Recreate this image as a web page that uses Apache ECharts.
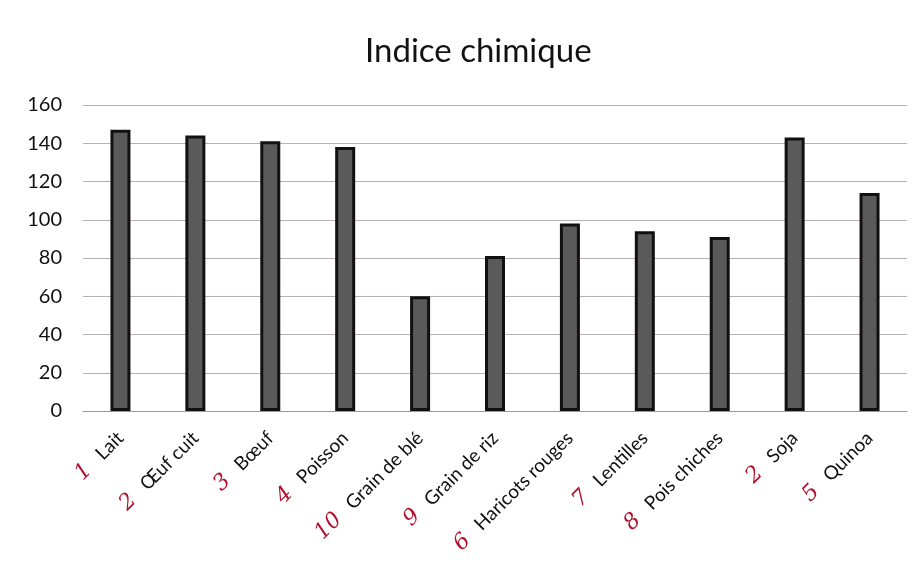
<!DOCTYPE html>
<html><head><meta charset="utf-8">
<script src="https://cdn.jsdelivr.net/npm/echarts@6/dist/echarts.min.js"></script>
<style>html,body{margin:0;padding:0;background:#fff}#c{width:922px;height:566px}</style>
</head><body><div id="c"></div>
<script>
const categories = ['Lait','Œuf cuit','Bœuf','Poisson','Grain de blé','Grain de riz','Haricots rouges','Lentilles','Pois chiches','Soja','Quinoa'];
const values = [147, 144, 141, 138, 60, 81, 98, 94, 91, 143, 114];
const rankNotes = ['1','2','3','4','10','9','6','7','8','2','5'];
const yTicks = [0,20,40,60,80,100,120,140,160];

const chart = echarts.init(document.getElementById('c'));
chart.setOption({
  backgroundColor:'#fff',
  animation:false,
  title:{text:'Indice chimique',left:360,top:30,
    textStyle:{fontFamily:'Lato',fontSize:33,fontWeight:'normal',color:'#111'}},
  grid:{left:83,right:15,top:105,bottom:155},
  xAxis:{type:'category',data:categories,
    axisLine:{lineStyle:{color:'#999',width:1}},
    axisTick:{show:false},
    axisLabel:{rotate:45,interval:0,margin:24,fontFamily:'Lato',fontSize:19,color:'#111',
      formatter:(v,i)=>'{n|'+rankNotes[i]+'}   '+v,
      rich:{n:{color:'#b3122e',fontFamily:'DejaVu Serif',fontStyle:'italic',fontSize:22}}}},
  yAxis:{type:'value',min:0,max:160,interval:20,
    axisLine:{show:false},axisTick:{show:false},
    axisLabel:{fontFamily:'Lato',fontSize:20,color:'#111',margin:21,
      formatter:v=>yTicks.includes(v)?String(v):''},
    splitLine:{lineStyle:{color:'#b9b0b0',width:1}}},
  series:[{type:'bar',data:values,barWidth:20,
    itemStyle:{color:'#5a5a5a',borderColor:'#111',borderWidth:3}}]
});
</script></body></html>
